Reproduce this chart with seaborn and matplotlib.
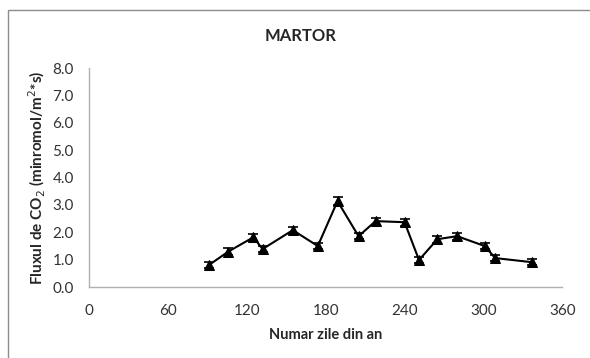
import matplotlib
matplotlib.use("Agg")
import matplotlib.pyplot as plt
import matplotlib.patches as mpatches
import seaborn as sns
import pandas as pd

# Day of year and CO2 flux measurements (control plot)
days = [91, 106, 125, 132, 155, 174, 189, 205, 218, 240, 251, 265, 280, 301, 309, 337]
flux = [0.80, 1.30, 1.82, 1.39, 2.08, 1.50, 3.14, 1.86, 2.41, 2.37, 0.99, 1.75, 1.86, 1.50, 1.06, 0.91]
flux_err = [0.12, 0.12, 0.13, 0.12, 0.13, 0.12, 0.15, 0.12, 0.13, 0.13, 0.12, 0.13, 0.13, 0.12, 0.12, 0.11]
x_ticks = [0, 60, 120, 180, 240, 300, 360]
y_ticks = [0.0, 1.0, 2.0, 3.0, 4.0, 5.0, 6.0, 7.0, 8.0]

df = pd.DataFrame({"zi": days, "flux": flux, "err": flux_err})

sns.set_theme(style="white")
plt.rcParams["font.family"] = ["Lato", "DejaVu Sans"]

fig = plt.figure(figsize=(5.9, 3.58), dpi=100)
ax = fig.add_axes([0.151, 0.198, 0.802, 0.612])

# Outer chart frame
fig.patches.append(mpatches.Rectangle((8 / 590, -0.1), 1.2, 1 - 10 / 358 + 0.1,
                                      transform=fig.transFigure, fill=False,
                                      edgecolor="#8c8c8c", linewidth=1.0))

ax.errorbar(df["zi"], df["flux"], yerr=df["err"], fmt="none",
            ecolor="black", elinewidth=1.2, capsize=3.5, capthick=1.2, zorder=2)
sns.lineplot(data=df, x="zi", y="flux", ax=ax, color="black", linewidth=1.5,
             marker="^", markersize=7, markeredgecolor="black",
             markerfacecolor="black", zorder=3)

ax.set_xlim(0, 360)
ax.set_ylim(0, 8)
ax.set_xticks(x_ticks)
ax.set_xticklabels([str(t) for t in x_ticks])
ax.set_yticks(y_ticks)
ax.set_yticklabels([f"{t:.1f}" for t in y_ticks])
ax.tick_params(axis="both", labelsize=11, colors="#333333", length=0)
ax.tick_params(axis="y", pad=11)
ax.tick_params(axis="x", pad=12)

for side in ("top", "right"):
    ax.spines[side].set_visible(False)
for side in ("left", "bottom"):
    ax.spines[side].set_color("#b0b0b0")
    ax.spines[side].set_linewidth(1.0)

ax.set_xlabel("Numar zile din an", fontsize=10.5, fontweight="bold", labelpad=7)
ax.set_ylabel("Fluxul de CO$_2$ (minromol/m$^2$*s)", fontsize=11,
              fontweight="bold", labelpad=3)
fig.text(0.51, 0.9, "MARTOR", ha="center", va="center", fontsize=12,
         fontweight="bold")

fig.savefig("out.png", dpi=100)
